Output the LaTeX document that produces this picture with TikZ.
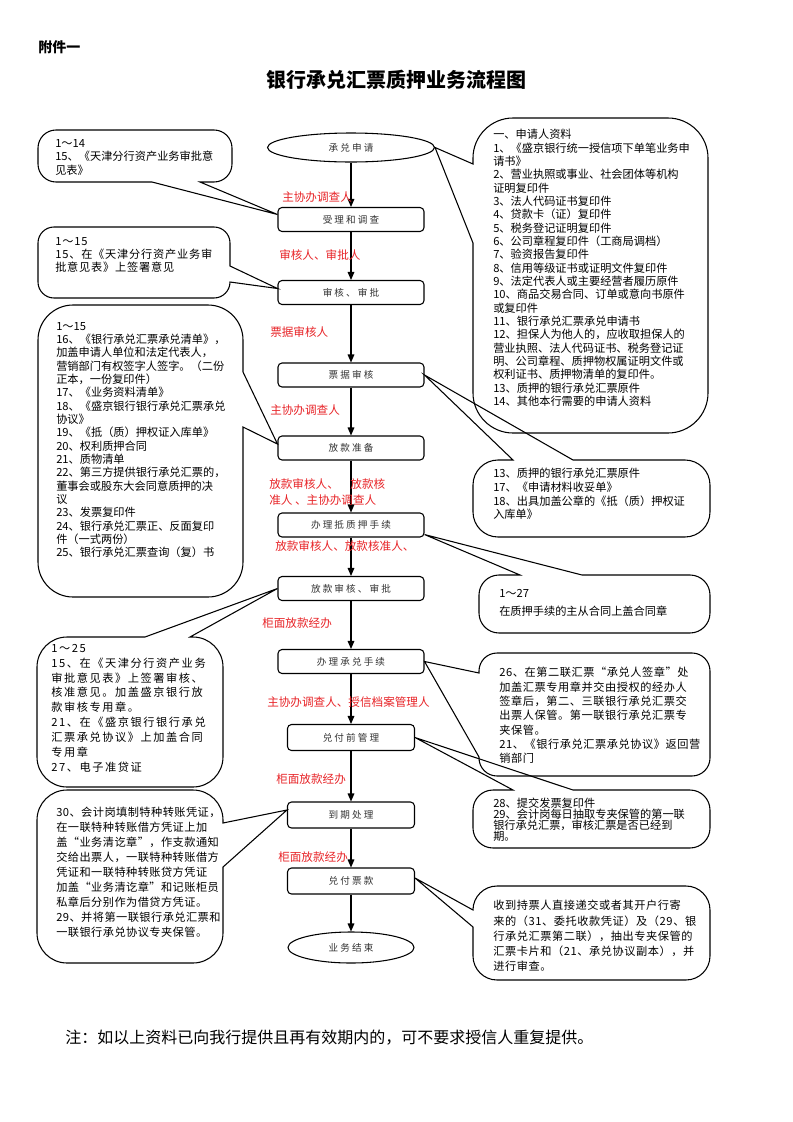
\documentclass[tikz,border=0pt]{standalone}
\usepackage{fontspec}
\setmainfont{Noto Sans CJK SC}
\usetikzlibrary{arrows.meta,calc,shapes.geometric}
\definecolor{labred}{RGB}{232,36,40}
\newcommand\cfs[1]{\fontsize{8.4}{#1}\selectfont}
% callout: x1 y1 x2 y2 R topnotch rightnotch bottomnotch leftnotch
\newcommand\bubble[9]{%
 \pgfmathsetmacro\bubK{0.45*#5}%
 \draw[bub] (#1+#5,#2) #6 -- (#3-#5,#2)
   .. controls (#3-\bubK,#2) and (#3,#2+\bubK) .. (#3,#2+#5) #7 -- (#3,#4-#5)
   .. controls (#3,#4-\bubK) and (#3-\bubK,#4) .. (#3-#5,#4) #8 -- (#1+#5,#4)
   .. controls (#1+\bubK,#4) and (#1,#4-\bubK) .. (#1,#4-#5) #9 -- (#1,#2+#5)
   .. controls (#1,#2+\bubK) and (#1+\bubK,#2) .. (#1+#5,#2) -- cycle;}
\begin{document}
\begin{tikzpicture}[x=0.75pt,y=-0.75pt,
  proc/.style={draw, line width=0.8pt, rounded corners=3pt, minimum width=109.5pt, minimum height=18pt, inner sep=0pt, text=black!80, font=\fontsize{7.2}{8}\selectfont\addfontfeature{LetterSpace=22}},
  procs/.style={proc, minimum width=95.25pt, minimum height=19.5pt},
  term/.style={ellipse, draw, line width=0.8pt, inner sep=0pt, text=black!80, font=\fontsize{7.2}{8}\selectfont\addfontfeature{LetterSpace=22}},
  arr/.style={line width=0.8pt, -{Triangle[length=6pt,width=5pt]}},
  lab/.style={anchor=west, inner sep=0pt, text=labred, font=\fontsize{8.7}{10}\selectfont},
  bub/.style={line width=0.8pt},
  ctext/.style={anchor=north west, inner sep=0pt, align=left}]
\useasboundingbox (0,0) rectangle (793,1122);
\fill[white] (0,0) rectangle (793,1122);

% headings
\node[anchor=west, inner sep=0pt, font=\fontsize{10.5}{12}\selectfont\bfseries] (att) at (38,47) {附件一};
\node[font=\fontsize{15}{18}\selectfont\bfseries] (title) at (396,80) {银行承兑汇票质押业务流程图};

% main flow
\node[term, minimum width=125.25pt, minimum height=21.75pt] (e1) at (351,147.5) {承兑申请};
\node[proc] (b1) at (351,219.5) {受理和调查};
\node[proc] (b2) at (351,292.5) {审核、审批};
\node[proc] (b3) at (351,375) {票据审核};
\node[proc] (b4) at (351,448) {放款准备};
\node[proc] (b5) at (351,525) {办理抵质押手续};
\node[proc] (b6) at (351,588.5) {放款审核、审批};
\node[proc] (b7) at (351,661.5) {办理承兑手续};
\node[procs] (b8) at (351,737.5) {兑付前管理};
\node[procs] (b9) at (351,815) {到期处理};
\node[procs] (b10) at (351,881) {兑付票款};
\node[term, minimum width=94.5pt, minimum height=23.25pt] (e2) at (351,947.5) {业务结束};

\foreach \a/\b in {e1/b1,b1/b2,b2/b3,b3/b4,b4/b5,b5/b6,b6/b7,b7/b8,b8/b9,b9/b10,b10/e2}
  \draw[arr] (\a) -- (\b);

% red role labels
\node[lab] (l1) at (282,197) {主协办调查人};
\node[lab] (l2) at (279,255) {审核人、审批人};
\node[lab] (l3) at (270,332) {票据审核人};
\node[lab] (l4) at (270,410) {主协办调查人};
\node[lab, anchor=north west, align=left, font=\fontsize{8.7}{12}\selectfont] (l5) at (269,478) {放款审核人、\hspace{1em}放款核\\准人 、主协办调查人};
\node[lab] (l6) at (275,546) {放款审核人、放款核准人、};
\node[lab] (l7) at (262,623) {柜面放款经办};
\node[lab] (l8) at (267,702) {主协办调查人、授信档案管理人};
\node[lab] (l9) at (276,779) {柜面放款经办};
\node[lab] (l10) at (278,857) {柜面放款经办};

% callouts (left)
\bubble{38}{130}{232}{182}{18}{}{}{-- (200,182) -- ($(b1.west)+(0,-5)$) -- (152,182)}{}
\node[ctext, font=\cfs{10.1pt}] (t1) at (55,138) {\vphantom{国}1～14\\15、《天津分行资产业务审批意\\见表》};

\bubble{38}{227}{230}{298}{16}{}{-- (230,266) -- ($(b2.west)+(0,-4)$) -- (230,282)}{}{}
\node[ctext, font=\cfs{9.8pt}\addfontfeature{LetterSpace=7}] (t2) at (55,236) {\vphantom{国}1～15\\15、在《天津分行资产业务审\\批意见表》上签署意见};

\bubble{38}{305}{243}{597}{35}{}{-- (243,372) -- ($(b4.west)+(0,-4)$) -- (243,427)}{}{}
\node[ctext, font=\cfs{10pt}] (t3) at (56,321) {\vphantom{国}1～15\\16、《银行承兑汇票承兑清单》，\\加盖申请人单位和法定代表人，\\营销部门有权签字人签字。（二份\\正本，一份复印件）\\17、《业务资料清单》\\18、《盛京银行银行承兑汇票承兑\\协议》\\19、《抵（质）押权证入库单》\\20、权利质押合同\\21、质物清单\\22、第三方提供银行承兑汇票的，\\董事会或股东大会同意质押的决\\议\\23、发票复印件\\24、银行承兑汇票正、反面复印\\件（一式两份）\\25、银行承兑汇票查询（复）书};

\bubble{37}{637}{223}{787}{30}{-- (145,637) -- (b6.west) -- (190,637)}{}{}{}
\node[ctext, font=\cfs{11.2pt}\addfontfeature{LetterSpace=14}] (t4) at (51,643) {\vphantom{国}1～25\\15、在《天津分行资产业务\\审批意见表》上签署审核、\\核准意见。加盖盛京银行放\\款审核专用章。\\21、在《盛京银行银行承兑\\汇票承兑协议》上加盖合同\\专用章\\27、电子准贷证};

\bubble{37}{790}{223}{963}{30}{}{-- (223,823) -- ($(b9.west)+(0,-5)$) -- (223,867)}{}{}
\node[ctext, font=\cfs{11.25pt}\addfontfeature{LetterSpace=4}] (t5) at (56,807) {\vphantom{国}30、会计岗填制特种转账凭证，\\在一联特种转账借方凭证上加\\盖“业务清讫章”，作支款通知\\交给出票人，一联特种转账借方\\凭证和一联特种转账贷方凭证\\加盖“业务清讫章”和记账柜员\\私章后分别作为借贷方凭证。\\29、并将第一联银行承兑汇票和\\一联银行承兑协议专夹保管。};

% callouts (right)
\bubble{473}{118}{708}{433}{40}{}{}{}{-- (473,243) -- (e1.east) -- (473,164)}
\node[ctext, font=\cfs{10pt}] (t6) at (493,129) {\vphantom{国}一、申请人资料\\1、《盛京银行统一授信项下单笔业务申\\请书》\\2、营业执照或事业、社会团体等机构\\证明复印件\\3、法人代码证书复印件\\4、贷款卡（证）复印件\\5、税务登记证明复印件\\6、公司章程复印件（工商局调档）\\7、验资报告复印件\\8、信用等级证书或证明文件复印件\\9、法定代表人或主要经营者履历原件\\10、商品交易合同、订单或意向书原件\\或复印件\\11、银行承兑汇票承兑申请书\\12、担保人为他人的，应收取担保人的\\营业执照、法人代码证书、税务登记证\\明、公司章程、质押物权属证明文件或\\权利证书、质押物清单的复印件。\\13、质押的银行承兑汇票原件\\14、其他本行需要的申请人资料};

\bubble{473}{460}{710}{537}{25}{-- (513,460) -- (b3.east) -- (573,460)}{}{}{}
\node[ctext, font=\cfs{10.3pt}] (t7) at (493,468) {\vphantom{国}13、质押的银行承兑汇票原件\\17、《申请材料收妥单》\\18、出具加盖公章的《抵（质）押权证\\入库单》};

\bubble{479}{575}{710}{633}{20}{-- (520,575) -- ($(b5.south east)+(0,-3)$) -- (582,575)}{}{}{}
\node[ctext, font=\cfs{13.5pt}] (t8) at (499,588) {\vphantom{国}1～27\\在质押手续的主从合同上盖合同章};

\bubble{479}{653}{710}{776}{18}{}{}{}{-- (479,757) -- (b7.east) -- (479,673)}
\node[ctext, font=\cfs{10.75pt}\addfontfeature{LetterSpace=5}] (t9) at (499,667) {\vphantom{国}26、在第二联汇票“承兑人签章”处\\加盖汇票专用章并交由授权的经办人\\签章后，第二、三联银行承兑汇票交\\出票人保管。第一联银行承兑汇票专\\夹保管。\\21、《银行承兑汇票承兑协议》返回营\\销部门};

\bubble{473}{790}{710}{848}{20}{-- (513,790) -- (b8.east) -- (573,790)}{}{}{}
\node[ctext, font=\cfs{8.25pt}] (t10) at (493,798) {\vphantom{国}28、提交发票复印件\\29、会计岗每日抽取专夹保管的第一联\\银行承兑汇票，审核汇票是否已经到\\期。};

\bubble{473}{886}{710}{980}{24}{}{}{}{-- (473,927) -- ($(b10.east)+(0,-3)$) -- (473,910)}
\node[ctext, font=\cfs{11.45pt}\addfontfeature{LetterSpace=5}] (t11) at (493,900) {\vphantom{国}收到持票人直接递交或者其开户行寄\\来的（31、委托收款凭证）及（29、银\\行承兑汇票第二联），抽出专夹保管的\\汇票卡片和（21、承兑协议副本），并\\进行审查。};

% footnote
\node[anchor=west, inner sep=0pt, font=\fontsize{12}{14}\selectfont] (note) at (65,1038) {注：如以上资料已向我行提供且再有效期内的，可不要求授信人重复提供。};
\end{tikzpicture}
\end{document}
